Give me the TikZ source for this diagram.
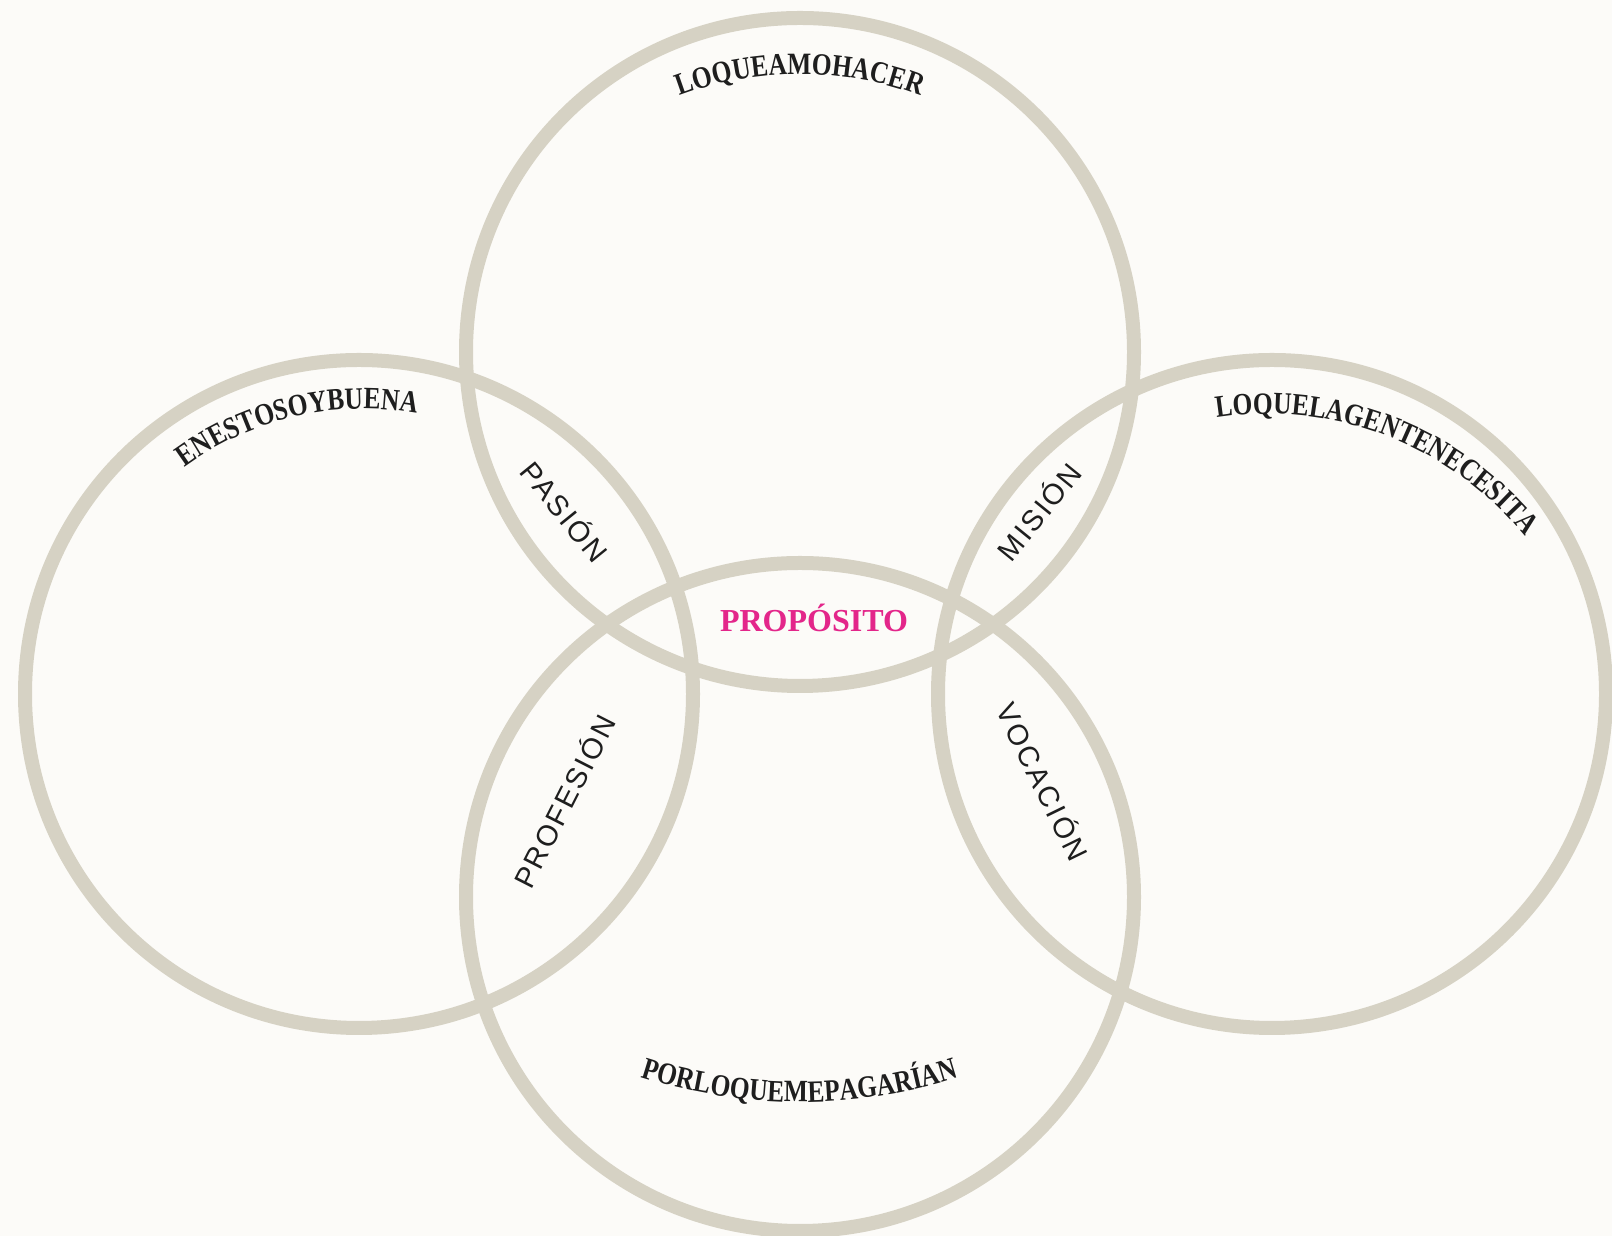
\documentclass[tikz,border=0pt]{standalone}
\usepackage{fontspec}
\setmainfont{Liberation Serif}
\newfontfamily\lblfont[FakeStretch=0.82]{Liberation Serif}
\newfontfamily\secfont[LetterSpace=8]{Liberation Sans}
\usetikzlibrary{decorations.text}
\definecolor{ringc}{HTML}{D6D2C4}
\definecolor{bgc}{HTML}{FCFBF8}
\definecolor{inkc}{HTML}{1E1E1E}
\definecolor{pinkc}{HTML}{E3268A}
\begin{document}
\begin{tikzpicture}[x=1pt,y=1pt,
  ringnode/.style={circle, draw=ringc, line width=14pt, minimum size=668pt, inner sep=0pt},
  seclabel/.style={font=\secfont\fontsize{29}{29}\selectfont, text=inkc, inner sep=0pt},
  arclabel/.style={decorate, decoration={text along path, text align=center, text color=inkc,
     text={|\lblfont\bfseries\fontsize{31}{31}\selectfont|#1}}}
]
\fill[bgc] (0,0) rectangle (1612,1236);
\useasboundingbox (0,0) rectangle (1612,1236);

\node[ringnode] (ctop) at (800,884) {};
\node[ringnode] (cleft) at (359,542) {};
\node[ringnode] (cright) at (1272,542) {};
\node[ringnode] (cbottom) at (800,339) {};

% curved labels
\path[arclabel={LOQUEAMOHACER}] (800,822) ++(130:340) arc[start angle=130, end angle=50, radius=340];
\path[arclabel={ENESTOSOYBUENA}] (363,526) ++(143:301) arc[start angle=143, end angle=63, radius=301];
\path[arclabel={LOQUELAGENTENECESITA}] (1268,491) ++(114:331) arc[start angle=114, end angle=24, radius=331];
\path[arclabel={PORLOQUEMEPAGARÍAN}] (800,654) ++(245:520) arc[start angle=245, end angle=295, radius=520];

% intersection labels
\node[seclabel, rotate=-51] (pasion) at (566,725) {PASIÓN};
\node[seclabel, rotate=51] (mision) at (1038,725) {MISIÓN};
\node[seclabel, rotate=63] (profesion) at (563,435) {PROFESIÓN};
\node[seclabel, rotate=-64] (vocacion) at (1044,455) {VOCACIÓN};

\node[font=\bfseries\fontsize{32}{32}\selectfont, text=pinkc, inner sep=0pt] (proposito) at (814,618) {PROPÓSITO};
\end{tikzpicture}
\end{document}
